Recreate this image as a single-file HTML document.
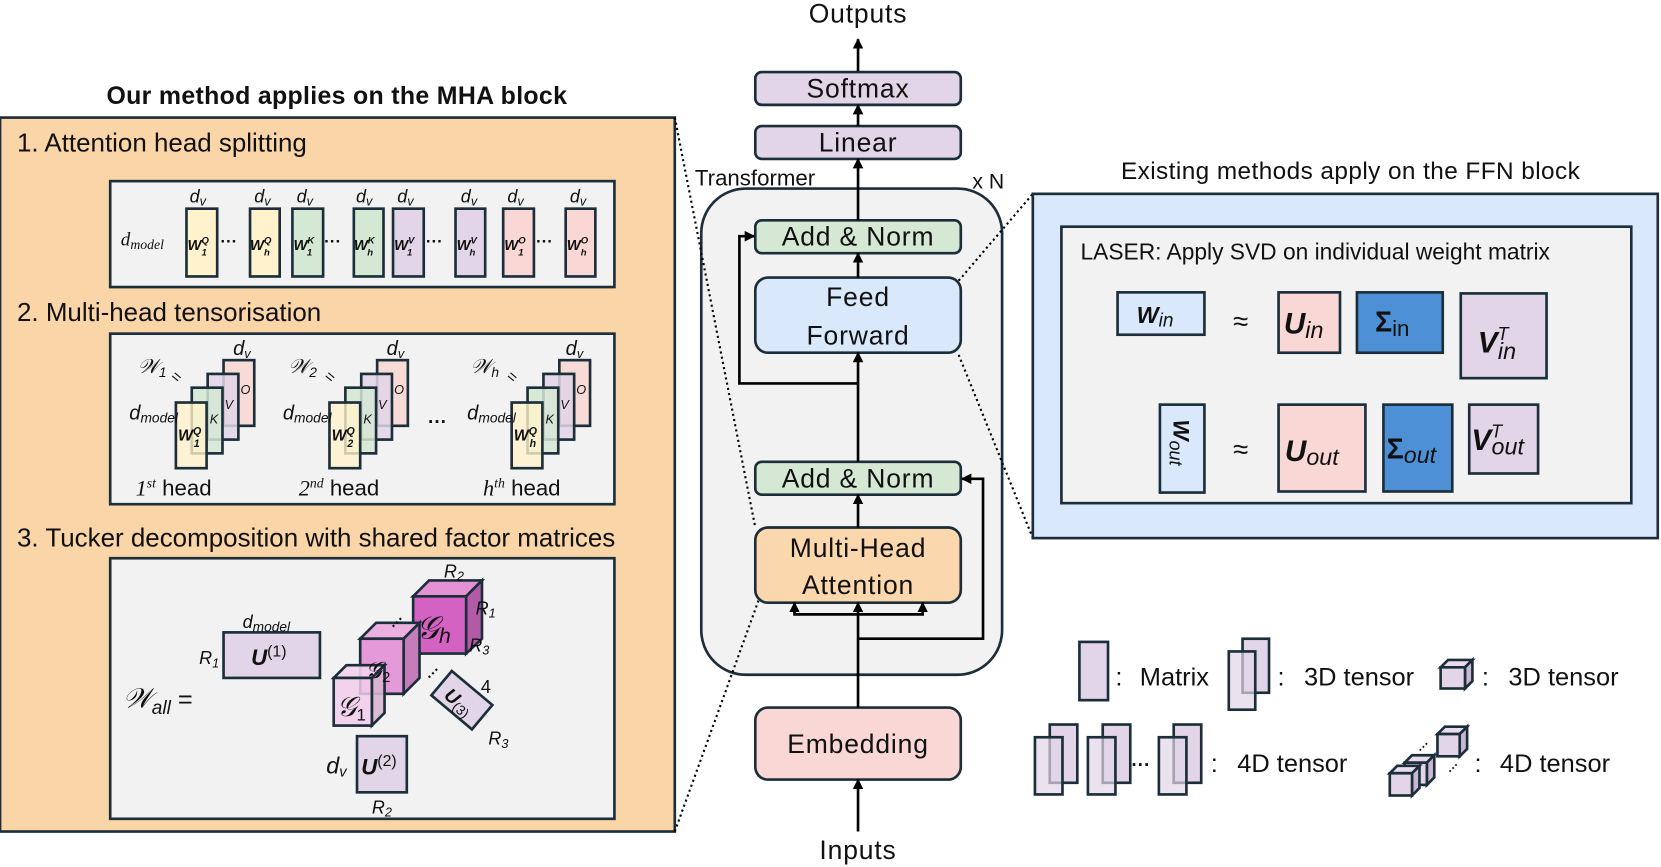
<!DOCTYPE html>
<html><head><meta charset="utf-8"><style>
html,body{margin:0;padding:0;background:#fff;}
svg{display:block;}
text{font-family:"Liberation Sans",sans-serif;fill:#111;}
text.m,.m{font-family:"Liberation Serif",serif;font-style:italic;}
.b{font-weight:bold;}
</style></head><body>
<svg width="1661" height="867" viewBox="0 0 1568 818.5" xmlns="http://www.w3.org/2000/svg">
<defs>
<marker id="ar" viewBox="0 0 10 10" refX="9" refY="5" markerWidth="4" markerHeight="4" orient="auto"><path d="M0,0L10,5L0,10z" fill="#000"/></marker>
</defs>
<g stroke="#1c2e3a" stroke-width="2.5">
<rect x="0" y="111" width="637" height="674" fill="#f9d5a7"/>
<rect x="104" y="171" width="476" height="100" fill="#f2f2f2"/>
<rect x="104" y="315" width="476" height="161" fill="#f2f2f2"/>
<rect x="104" y="527" width="476" height="246" fill="#f2f2f2"/>
<rect x="176" y="197" width="29" height="64" fill="#fff2cc"/>
<rect x="236" y="197" width="28" height="64" fill="#fff2cc"/>
<rect x="276" y="197" width="29" height="64" fill="#d5e8d4"/>
<rect x="334" y="197" width="28" height="64" fill="#d5e8d4"/>
<rect x="371" y="197" width="29" height="64" fill="#e1d5e7"/>
<rect x="430" y="197" width="28" height="64" fill="#e1d5e7"/>
<rect x="475" y="197" width="29" height="64" fill="#f8d7d4"/>
<rect x="534" y="197" width="28" height="64" fill="#f8d7d4"/>
</g>
<text class="m" x="114" y="232" font-size="18">d<tspan font-size="13" dy="3">model</tspan></text>
<g class="m b" font-size="14">
<text x="177" y="236">W<tspan font-size="9" dy="-6">Q</tspan><tspan font-size="9" dx="-7" dy="11">1</tspan></text>
<text x="236" y="236">W<tspan font-size="9" dy="-6">Q</tspan><tspan font-size="9" dx="-7" dy="11">h</tspan></text>
<text x="277" y="236">W<tspan font-size="9" dy="-6">K</tspan><tspan font-size="9" dx="-7" dy="11">1</tspan></text>
<text x="334" y="236">W<tspan font-size="9" dy="-6">K</tspan><tspan font-size="9" dx="-7" dy="11">h</tspan></text>
<text x="372" y="236">W<tspan font-size="9" dy="-6">V</tspan><tspan font-size="9" dx="-7" dy="11">1</tspan></text>
<text x="431" y="236">W<tspan font-size="9" dy="-6">V</tspan><tspan font-size="9" dx="-7" dy="11">h</tspan></text>
<text x="476" y="236">W<tspan font-size="9" dy="-6">O</tspan><tspan font-size="9" dx="-7" dy="11">1</tspan></text>
<text x="535" y="236">W<tspan font-size="9" dy="-6">O</tspan><tspan font-size="9" dx="-7" dy="11">h</tspan></text>
</g>
<g class="m" font-size="17">
<text x="179" y="191">d<tspan font-size="12" dy="3">v</tspan></text>
<text x="240" y="191">d<tspan font-size="12" dy="3">v</tspan></text>
<text x="280" y="191">d<tspan font-size="12" dy="3">v</tspan></text>
<text x="336" y="191">d<tspan font-size="12" dy="3">v</tspan></text>
<text x="375" y="191">d<tspan font-size="12" dy="3">v</tspan></text>
<text x="435" y="191">d<tspan font-size="12" dy="3">v</tspan></text>
<text x="479" y="191">d<tspan font-size="12" dy="3">v</tspan></text>
<text x="538" y="191">d<tspan font-size="12" dy="3">v</tspan></text>
</g>
<g font-size="16" font-weight="bold">
<text x="208" y="233">···</text><text x="306" y="233">···</text><text x="402" y="233">···</text><text x="506" y="233">···</text>
</g>
<text x="318" y="98" font-size="23.5" font-weight="bold" text-anchor="middle" letter-spacing="0.3">Our method applies on the MHA block</text>
<text x="16" y="143" font-size="24.5">1. Attention head splitting</text>
<text x="16" y="303" font-size="24.5">2. Multi-head tensorisation</text>
<text x="16" y="516" font-size="24.5">3. Tucker decomposition with shared factor matrices</text>

<g id="h1">
<g stroke="#1c2e3a" stroke-width="2.5">
<rect x="211" y="340" width="29" height="62" fill="#f8d7d4" fill-opacity="0.9"/>
<rect x="196" y="353" width="29" height="62" fill="#e1d5e7" fill-opacity="0.85"/>
<rect x="181" y="366" width="29" height="62" fill="#d5e8d4" fill-opacity="0.85"/>
<rect x="166" y="380" width="29" height="62" fill="#fff2cc" fill-opacity="0.8"/>
</g>
</g>
<use href="#h1" x="145"/>
<use href="#h1" x="317"/>
<g class="m" font-size="12" fill="#555">
<text x="227" y="372">O</text><text x="212" y="386">V</text><text x="198" y="400">K</text>
<text x="372" y="372">O</text><text x="357" y="386">V</text><text x="343" y="400">K</text>
<text x="544" y="372">O</text><text x="529" y="386">V</text><text x="515" y="400">K</text>
</g>
<g class="m b" font-size="15">
<text x="168" y="416">W<tspan font-size="10" dy="-6">Q</tspan><tspan font-size="10" dx="-7" dy="12">1</tspan></text>
<text x="313" y="416">W<tspan font-size="10" dy="-6">Q</tspan><tspan font-size="10" dx="-7" dy="12">2</tspan></text>
<text x="485" y="416">W<tspan font-size="10" dy="-6">Q</tspan><tspan font-size="10" dx="-7" dy="12">h</tspan></text>
</g>
<g class="m" font-size="19">
<text x="130" y="352">𝒲<tspan font-size="13" dy="4">1</tspan></text>
<text x="272" y="352">𝒲<tspan font-size="13" dy="4">2</tspan></text>
<text x="444" y="352">𝒲<tspan font-size="13" dy="4">h</tspan></text>
<text x="220" y="335">d<tspan font-size="12" dy="3">v</tspan></text>
<text x="365" y="335">d<tspan font-size="12" dy="3">v</tspan></text>
<text x="534" y="335">d<tspan font-size="12" dy="3">v</tspan></text>
<text x="122" y="396">d<tspan font-size="13" dy="3">model</tspan></text>
<text x="267" y="396">d<tspan font-size="13" dy="3">model</tspan></text>
<text x="441" y="396">d<tspan font-size="13" dy="3">model</tspan></text>
</g>
<g font-size="15"><text x="161" y="360" transform="rotate(40 165 357)">=</text><text x="306" y="360" transform="rotate(40 310 357)">=</text><text x="478" y="360" transform="rotate(40 482 357)">=</text></g>
<text x="404" y="404" font-size="18" font-weight="bold">···</text>
<g font-size="21">
<text x="128" y="468"><tspan class="m">1</tspan><tspan class="m" font-size="13" dy="-8">st</tspan><tspan dy="8"> head</tspan></text>
<text x="282" y="468"><tspan class="m">2</tspan><tspan class="m" font-size="13" dy="-8">nd</tspan><tspan dy="8"> head</tspan></text>
<text x="456" y="468"><tspan class="m">h</tspan><tspan class="m" font-size="13" dy="-8">th</tspan><tspan dy="8"> head</tspan></text>
</g>

<g stroke="#1c2e3a" stroke-width="2.5">
<rect x="211" y="597" width="91" height="43" fill="#e1d5e7"/>
<rect x="337" y="695" width="47" height="53" fill="#e1d5e7"/>
<polygon points="390,563 405,548 455,548 440,563" fill="#e391d2"/>
<polygon points="440,563 455,548 455,603 440,617" fill="#b35aa6"/>
<rect x="390" y="563" width="50" height="54" fill="#d462c2"/>
<polygon points="340,603 355,588 396,588 381,603" fill="#ebb0e0"/>
<polygon points="381,603 396,588 396,640 381,655" fill="#c47db8"/>
<rect x="340" y="603" width="41" height="52" fill="#e49ad8"/>
<polygon points="315,640 327,628 363,628 351,640" fill="#f3d4ee" fill-opacity="0.9"/>
<polygon points="351,640 363,628 363,673 351,685" fill="#d9b5d2" fill-opacity="0.9"/>
<rect x="315" y="640" width="36" height="45" fill="#f2cdeb" fill-opacity="0.85"/>
<rect x="-25" y="-15" width="50" height="30" fill="#e1d5e7" transform="translate(436 661) rotate(40)"/>
</g>
<g class="m" font-size="17">
<text x="116" y="668" font-size="26">𝒲<tspan font-size="18" dy="6">all</tspan><tspan font-style="normal" dy="-6" font-size="24"> =</tspan></text>
<text x="229" y="593">d<tspan font-size="13" dy="3">model</tspan></text>
<text x="188" y="627">R<tspan font-size="12" dy="3">1</tspan></text>
<text x="237" y="628" class="b" font-size="21">U<tspan font-style="normal" font-weight="normal" font-size="15" dy="-8">(1)</tspan></text>
<text x="341" y="731" class="b" font-size="21">U<tspan font-style="normal" font-weight="normal" font-size="15" dy="-8">(2)</tspan></text>
<text x="308" y="730" font-size="22">d<tspan font-size="14" dy="3">v</tspan></text>
<text x="351" y="768">R<tspan font-size="12" dy="3">2</tspan></text>
<text x="419" y="545">R<tspan font-size="12" dy="3">2</tspan></text>
<text x="449" y="580">R<tspan font-size="12" dy="3">1</tspan></text>
<text x="443" y="615">R<tspan font-size="12" dy="3">3</tspan></text>
<text x="454" y="654" font-style="normal">4</text>
<text x="461" y="703">R<tspan font-size="12" dy="3">3</tspan></text>
<text x="318" y="676" font-size="26">𝒢<tspan font-size="16" font-style="normal" dy="4">1</tspan></text>
<text x="345" y="640" font-size="22" fill="#888">𝒢<tspan font-size="14" font-style="normal" dy="4">2</tspan></text>
<text x="393" y="603" font-size="30">𝒢<tspan font-size="20" dy="4">h</tspan></text>
<text class="b" font-size="18" transform="translate(418 658) rotate(40)">U<tspan font-style="normal" font-weight="normal" font-size="13" dy="3">(3)</tspan></text>
</g>
<text x="366" y="592" font-size="14" font-weight="bold" transform="rotate(-45 374 585)">···</text>
<text x="400" y="640" font-size="14" font-weight="bold" transform="rotate(-45 408 633)">···</text>

<rect x="662" y="178" width="284" height="459" rx="42" fill="#f2f2f2" stroke="#1c2e3a" stroke-width="2.5"/>
<g stroke="#1c2e3a" stroke-width="2.5">
<rect x="713" y="68" width="194" height="31" rx="6" fill="#e1d5e7"/>
<rect x="713" y="119" width="194" height="31" rx="6" fill="#e1d5e7"/>
<rect x="713" y="208" width="194" height="31" rx="6" fill="#d5e8d4"/>
<rect x="713" y="262" width="194" height="71" rx="12" fill="#dae8fc"/>
<rect x="713" y="436" width="194" height="31" rx="6" fill="#d5e8d4"/>
<rect x="713" y="498" width="194" height="71" rx="12" fill="#fad7ac"/>
<rect x="713" y="668" width="194" height="68" rx="12" fill="#f8d7d4"/>
</g>
<g stroke="#000" stroke-width="2.5" fill="none" marker-end="url(#ar)">
<line x1="810" y1="67" x2="810" y2="37"/>
<line x1="810" y1="119" x2="810" y2="99"/>
<line x1="810" y1="208" x2="810" y2="150"/>
<line x1="810" y1="262" x2="810" y2="239"/>
<line x1="810" y1="436" x2="810" y2="333"/>
<line x1="810" y1="498" x2="810" y2="467"/>
<line x1="810" y1="668" x2="810" y2="569"/>
<line x1="810" y1="785" x2="810" y2="736"/>
<polyline points="810,362 698,362 698,223 712,223"/>
<polyline points="810,603 928,603 928,452 908,452"/>
<polyline points="810,580 750,580 750,569"/>
<polyline points="810,580 871,580 871,569"/>
</g>
<g font-size="25" text-anchor="middle" letter-spacing="0.8">
<text x="810" y="21">Outputs</text>
<text x="810" y="92">Softmax</text>
<text x="810" y="143">Linear</text>
<text x="810" y="232">Add &amp; Norm</text>
<text x="810" y="289">Feed</text>
<text x="810" y="325">Forward</text>
<text x="810" y="460">Add &amp; Norm</text>
<text x="810" y="526">Multi-Head</text>
<text x="810" y="561">Attention</text>
<text x="810" y="711">Embedding</text>
<text x="810" y="811">Inputs</text>
</g>
<text x="656" y="175" font-size="21">Transformer</text>
<text x="918" y="178" font-size="20">x N</text>

<g stroke="#000" stroke-width="2" stroke-dasharray="2,3" fill="none">
<line x1="637" y1="111" x2="713" y2="498"/>
<line x1="637" y1="785" x2="716" y2="567"/>
<line x1="905" y1="265" x2="975" y2="183"/>
<line x1="905" y1="335" x2="975" y2="508"/>
</g>

<text x="1275" y="169" font-size="23" text-anchor="middle" letter-spacing="0.4">Existing methods apply on the FFN block</text>
<g stroke="#1c2e3a" stroke-width="2.5">
<rect x="975" y="183" width="590" height="325" fill="#dae8fc"/>
<rect x="1002" y="214" width="538" height="261" fill="#f2f2f2"/>
<rect x="1055" y="276" width="82" height="40" fill="#dae8fc"/>
<rect x="1207" y="276" width="58" height="57" fill="#f8d7d4"/>
<rect x="1281" y="276" width="81" height="57" fill="#4d90d6"/>
<rect x="1379" y="277" width="81" height="80" fill="#e1d5e7"/>
<rect x="1095" y="382" width="42" height="83" fill="#dae8fc"/>
<rect x="1207" y="382" width="82" height="82" fill="#f8d7d4"/>
<rect x="1306" y="382" width="65" height="82" fill="#4d90d6"/>
<rect x="1387" y="382" width="65" height="65" fill="#e1d5e7"/>
</g>
<text x="1020" y="245" font-size="21.5">LASER: Apply SVD on individual weight matrix</text>
<g class="m" font-size="22">
<text x="1073" y="305" class="b">W<tspan font-weight="normal" font-size="18" dy="3">in</tspan></text>
<text x="1212" y="315" class="b" font-size="28">U<tspan font-weight="normal" font-size="22" dy="4">in</tspan></text>
<text x="1298" y="313" font-style="normal" font-weight="bold" font-size="27">Σ<tspan font-weight="normal" font-size="21" dy="4">in</tspan></text>
<text x="1395" y="333" class="b" font-size="28">V<tspan font-weight="normal" font-size="17" dy="-12">T</tspan><tspan font-weight="normal" font-size="22" dx="-10" dy="18">in</tspan></text>
<text class="b" font-size="21" transform="translate(1108 396) rotate(90)">W<tspan font-weight="normal" font-size="17" dy="4">out</tspan></text>
<text x="1213" y="435" class="b" font-size="28">U<tspan font-weight="normal" font-size="22" dy="4">out</tspan></text>
<text x="1309" y="433" font-style="normal" font-weight="bold" font-size="27">Σ<tspan font-style="italic" font-weight="normal" font-size="22" dy="4">out</tspan></text>
<text x="1389" y="425" class="b" font-size="28">V<tspan font-weight="normal" font-size="17" dy="-12">T</tspan><tspan font-weight="normal" font-size="22" dx="-10" dy="16">out</tspan></text>
</g>
<text x="1164" y="312" font-size="26">≈</text>
<text x="1164" y="433" font-size="26">≈</text>

<g stroke="#1c2e3a" stroke-width="2.5" fill="#e1d5e7">
<rect x="1019" y="606" width="27" height="55"/>
<rect x="1173" y="603" width="25" height="51"/>
<rect x="1160" y="615" width="25" height="55" fill-opacity="0.7"/>
<polygon points="1360,630 1367,623 1390,623 1383,630" fill="#e8dcee"/>
<polygon points="1383,630 1390,623 1390,643 1383,650" fill="#c9b8d2"/>
<rect x="1360" y="630" width="23" height="20"/>
<rect x="991" y="684" width="26" height="55"/><rect x="977" y="696" width="26" height="54" fill-opacity="0.7"/>
<rect x="1041" y="684" width="26" height="55"/><rect x="1027" y="696" width="26" height="54" fill-opacity="0.7"/>
<rect x="1108" y="684" width="26" height="55"/><rect x="1094" y="696" width="26" height="54" fill-opacity="0.7"/>
<polygon points="1357,693 1364,686 1385,686 1378,693" fill="#e8dcee"/>
<polygon points="1378,693 1385,686 1385,707 1378,714" fill="#c9b8d2"/>
<rect x="1357" y="693" width="21" height="21"/>
<polygon points="1326,720 1333,713 1354,713 1347,720" fill="#e8dcee"/>
<polygon points="1347,720 1354,713 1354,734 1347,741" fill="#c9b8d2"/>
<rect x="1326" y="720" width="21" height="21"/>
<polygon points="1312,730 1319,723 1340,723 1333,730" fill="#e8dcee"/>
<polygon points="1333,730 1340,723 1340,744 1333,751" fill="#c9b8d2"/>
<rect x="1312" y="730" width="21" height="21"/>
</g>
<g font-size="24">
<text x="1053" y="647">:</text><text x="1076" y="647">Matrix</text>
<text x="1206" y="647">:</text><text x="1231" y="647">3D tensor</text>
<text x="1399" y="647">:</text><text x="1424" y="647">3D tensor</text>
<text x="1143" y="729">:</text><text x="1168" y="729">4D tensor</text>
<text x="1392" y="729">:</text><text x="1416" y="729">4D tensor</text>
</g>
<text x="1068" y="728" font-size="18" font-weight="bold">···</text>
<text x="1336" y="708" font-size="12" font-weight="bold" transform="rotate(-45 1344 702)">···</text>
<text x="1364" y="728" font-size="12" font-weight="bold" transform="rotate(-45 1372 722)">···</text>
</svg>
</body></html>
